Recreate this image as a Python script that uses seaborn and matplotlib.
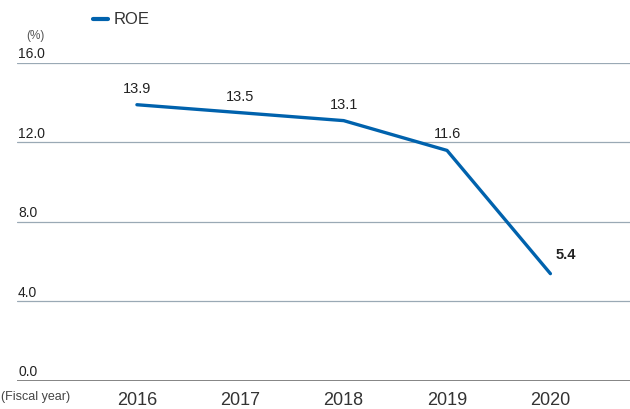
import matplotlib
matplotlib.use("Agg")
import matplotlib.pyplot as plt
import seaborn as sns
import pandas as pd

years = ["2016", "2017", "2018", "2019", "2020"]
roe = [13.9, 13.5, 13.1, 11.6, 5.4]
y_ticks = [0.0, 4.0, 8.0, 12.0, 16.0]

sns.set_theme(style="white")
plt.rcParams["font.family"] = ["Liberation Sans", "DejaVu Sans"]

df = pd.DataFrame({"idx": range(len(years)), "ROE": roe})

fig = plt.figure(figsize=(6.3, 4.09), dpi=100)
ax = fig.add_axes([0.027, 0.0685, 0.973, 0.7775])

line_color = "#0062AD"
sns.lineplot(data=df, x="idx", y="ROE", ax=ax, color=line_color, linewidth=2.4,
             legend=False)

ax.set_xlim(-1.16, 4.77)
ax.set_ylim(0, 16)

# horizontal grid lines
for v in y_ticks[1:]:
    ax.axhline(v, color="#9AA9B5", linewidth=0.9, zorder=0)
ax.axhline(0, color="#707070", linewidth=1.2, zorder=0)

for s in ax.spines.values():
    s.set_visible(False)
ax.set_xticks([])
ax.set_yticks([])
ax.set_xlabel("")
ax.set_ylabel("")

# y tick labels sit just above their grid lines
for v in y_ticks:
    ax.text(-1.16 + 0.01, v + 0.08, f"{v:.1f}", fontsize=10, color="#222222",
            ha="left", va="bottom")
fig.text(26 / 630, 1 - 36 / 409, "(%)", fontsize=8.5, color="#555555",
         ha="left", va="center")

# year labels
for i, y in enumerate(years):
    ax.text(i, -0.55, y, fontsize=13, color="#333333", ha="center", va="top")
fig.text(1 / 630, 1 - 397 / 409, "(Fiscal year)", fontsize=9, color="#444444",
         ha="left", va="center")

# value labels
for i, v in enumerate(roe):
    if i == len(roe) - 1:
        ax.text(i + 0.05, v + 0.6, f"{v:.1f}", fontsize=10.5, fontweight="bold",
                color="#222222", ha="left", va="bottom")
    else:
        ax.text(i, v + 0.45, f"{v:.1f}", fontsize=10.5, color="#222222",
                ha="center", va="bottom")

# legend
ly = 1 - 19 / 409
fig.add_artist(plt.Line2D([93 / 630, 108 / 630], [ly, ly], color=line_color,
                          linewidth=3, solid_capstyle="round"))
fig.text(114 / 630, ly, "ROE", fontsize=12, color="#333333",
         ha="left", va="center")

fig.savefig("out.png", dpi=100)
